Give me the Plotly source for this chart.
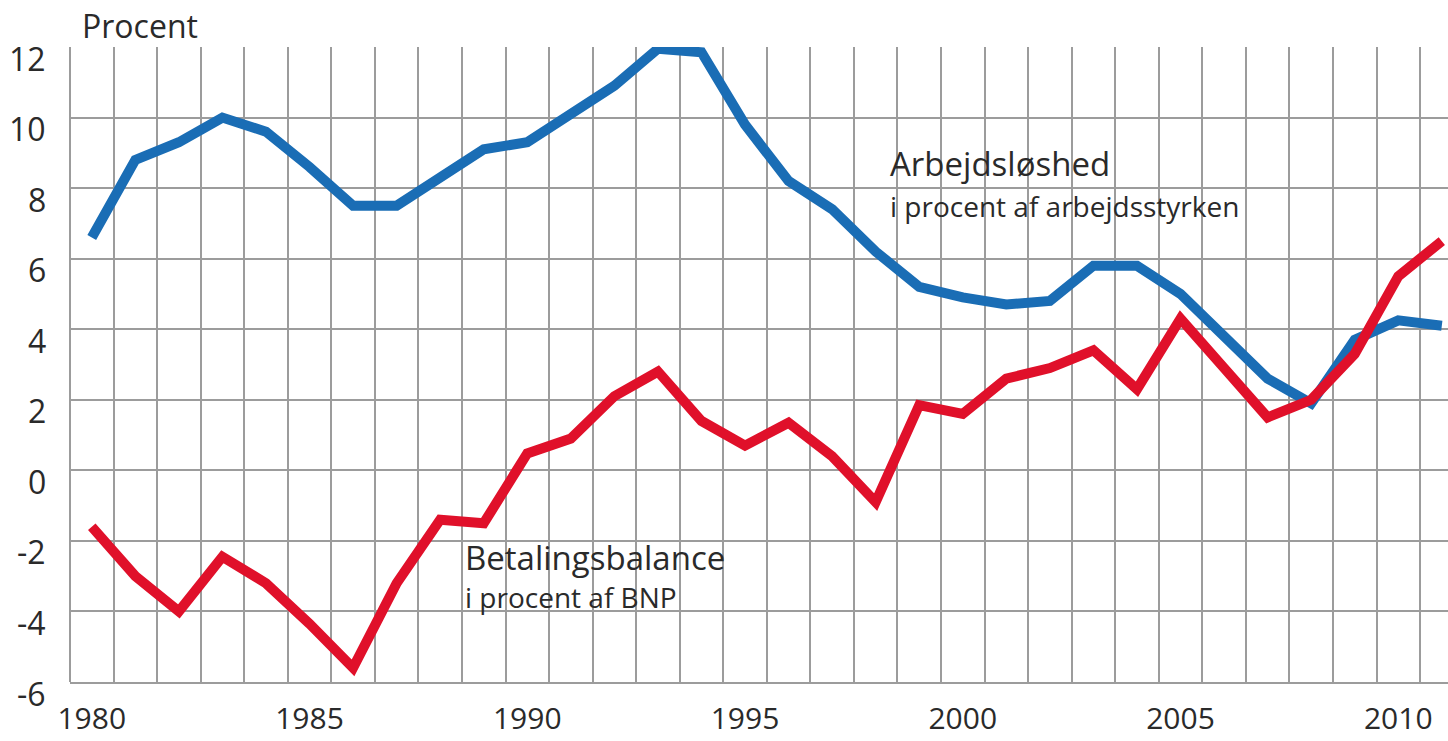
import plotly.graph_objects as go

years = list(range(1980, 2012))
arbejdsloshed = [6.6, 8.8, 9.3, 10.0, 9.6, 8.6, 7.5, 7.5, 8.3, 9.1, 9.3, 10.1, 10.9, 11.95, 11.85,
                 9.8, 8.2, 7.4, 6.2, 5.2, 4.9, 4.7, 4.8, 5.8, 5.8, 5.0, 3.8, 2.6, 1.9, 3.7, 4.25, 4.1]
betalingsbalance = [-1.6, -3.0, -4.0, -2.45, -3.2, -4.35, -5.6, -3.2, -1.4, -1.5, 0.48, 0.9, 2.1, 2.8, 1.4,
                    0.7, 1.35, 0.4, -0.9, 1.85, 1.6, 2.6, 2.9, 3.4, 2.3, 4.3, 2.9, 1.5, 2.0, 3.3, 5.5, 6.5]
x_tick_years = [1980, 1985, 1990, 1995, 2000, 2005, 2010]
y_ticks = [12, 10, 8, 6, 4, 2, 0, -2, -4, -6]
grid_positions = [y + 0.5 for y in range(1979, 2012)]

FONT = "Open Sans"
TXT = "#2a2a2a"
BLUE = "#1a6db5"
RED = "#e0102a"
GRID = "#9c9c9c"

fig = go.Figure()
fig.add_trace(go.Scatter(x=years, y=arbejdsloshed, mode="lines",
                         line=dict(color=BLUE, width=10), showlegend=False))
fig.add_trace(go.Scatter(x=years, y=betalingsbalance, mode="lines",
                         line=dict(color=RED, width=10), showlegend=False))
# invisible trace to activate the label axis
fig.add_trace(go.Scatter(x=[1980], y=[0], xaxis="x2", mode="markers",
                         marker=dict(opacity=0), showlegend=False, hoverinfo="skip"))

xr = [1979.5, 1979.5 + 1378 / 43.55]
fig.update_layout(
    width=1448, height=741,
    margin=dict(l=70, r=0, t=47, b=59, autoexpand=False),
    paper_bgcolor="white", plot_bgcolor="white",
    font=dict(family=FONT, color=TXT),
    xaxis=dict(range=xr, tickmode="array", tickvals=grid_positions, showticklabels=False,
               showgrid=True, gridcolor=GRID, gridwidth=2, zeroline=False,
               showline=True, linecolor=GRID, linewidth=2, ticks="", automargin=False),
    xaxis2=dict(range=xr, overlaying="x", side="bottom", tickmode="array",
                tickvals=x_tick_years, ticktext=[str(v) for v in x_tick_years],
                showgrid=False, zeroline=False, showline=False, ticks="", automargin=False,
                tickfont=dict(size=30, color=TXT, family=FONT), ticklabelstandoff=16),
    yaxis=dict(range=[-6, 12], tickmode="array", tickvals=y_ticks, showticklabels=False,
               showgrid=True, gridcolor=GRID, gridwidth=2, zeroline=False,
               showline=False, ticks="", automargin=False),
    shapes=[dict(type="line", xref="paper", yref="paper", x0=0, x1=0, y0=0, y1=1,
                 line=dict(color=GRID, width=2))],
)

annotations = []
for v in y_ticks:
    annotations.append(dict(x=0, xref="paper", y=v, yref="y", xshift=-22, yshift=-11,
                            text=str(v), showarrow=False, xanchor="right", yanchor="middle",
                            font=dict(size=32, color=TXT, family=FONT)))
annotations.append(dict(x=0, xref="paper", y=1, yref="paper", xshift=10, yshift=22,
                        text="Procent", showarrow=False, xanchor="left", yanchor="middle",
                        font=dict(size=32, color=TXT, family=FONT)))
annotations.append(dict(x=1998.28, y=8.7, text="Arbejdsløshed", showarrow=False,
                        xanchor="left", yanchor="middle", font=dict(size=33, color=TXT, family=FONT)))
annotations.append(dict(x=1998.28, y=7.5, text="i procent af arbejdsstyrken", showarrow=False,
                        xanchor="left", yanchor="middle", font=dict(size=28, color=TXT, family=FONT)))
annotations.append(dict(x=1988.52, y=-2.46, text="Betalingsbalance", showarrow=False,
                        xanchor="left", yanchor="middle", font=dict(size=33, color=TXT, family=FONT)))
annotations.append(dict(x=1988.52, y=-3.6, text="i procent af BNP", showarrow=False,
                        xanchor="left", yanchor="middle", font=dict(size=28, color=TXT, family=FONT)))
fig.update_layout(annotations=annotations)

fig.write_html("out.html", config={"displayModeBar": False},
               post_script="document.body.style.margin='0';document.body.style.overflow='hidden';")
